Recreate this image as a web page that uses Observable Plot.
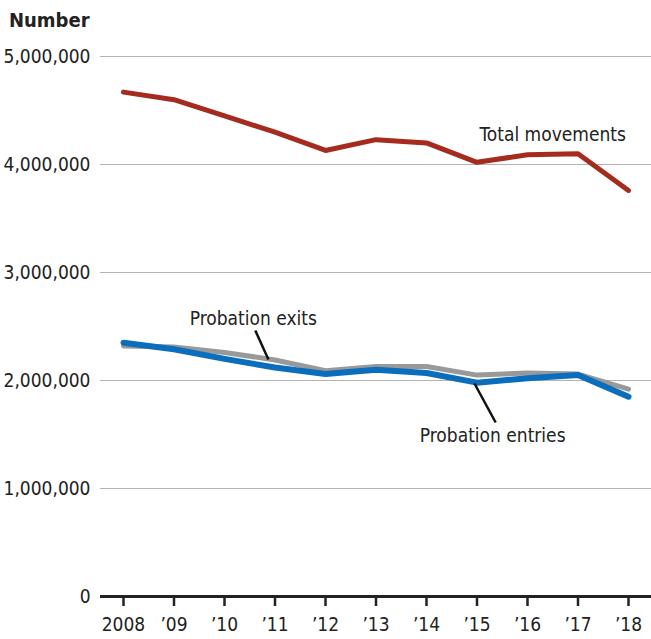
<!DOCTYPE html>
<html><head><meta charset="utf-8">
<script src="https://cdn.jsdelivr.net/npm/d3@7"></script>
<script src="https://cdn.jsdelivr.net/npm/@observablehq/plot@0.6"></script>
<style>
body{margin:0;background:#fff;font-family:"DejaVu Sans Condensed","DejaVu Sans",sans-serif;font-stretch:condensed;}
#title{height:40px;line-height:40px;padding-left:9px;font-weight:bold;font-size:20px;color:#222;font-stretch:condensed;}
svg text{font-stretch:condensed;}
</style></head>
<body>
<div id="title">Number</div>
<div id="chart"></div>
<script>
const years = [2008,2009,2010,2011,2012,2013,2014,2015,2016,2017,2018];
const yearLabels = ["2008","’09","’10","’11","’12","’13","’14","’15","’16","’17","’18"];
const totalMovements = [4670000,4600000,4450000,4300000,4130000,4230000,4200000,4020000,4090000,4100000,3760000];
const probationExits = [2320000,2310000,2260000,2190000,2090000,2130000,2130000,2050000,2070000,2060000,1920000];
const probationEntries = [2350000,2290000,2200000,2120000,2060000,2100000,2070000,1980000,2020000,2050000,1850000];
const yTicks = [0,1000000,2000000,3000000,4000000,5000000];

const annoLabels = ["Total movements","Probation exits","Probation entries"];
const annoYear = [2016.5,2010.57,2015.31];
const annoValue = [4278000,2574000,1490000];
const leaderX1 = [2010.61,2014.95];
const leaderX2 = [2010.87,2015.37];
const leaderY1 = [2463000,1972000];
const leaderY2 = [2194000,1611000];

const toRows = vals => years.map((y,i)=>({year:y, value:vals[i]}));
const anno = annoLabels.map((t,i)=>({text:t, year:annoYear[i], value:annoValue[i]}));
const leaders = leaderX1.map((x,i)=>({x1:x, x2:leaderX2[i], y1:leaderY1[i], y2:leaderY2[i]}));
const fmtYear = d => yearLabels[years.indexOf(d)];

const plot = Plot.plot({
  width:651, height:599,
  marginTop:16, marginBottom:43, marginLeft:100, marginRight:0,
  style:{fontFamily:'"DejaVu Sans Condensed","DejaVu Sans",sans-serif', fontSize:"19px", color:"#222", background:"#fff"},
  x:{domain:[2008,2018], insetLeft:23, insetRight:23},
  y:{domain:[0,5000000]},
  marks:[
    Plot.ruleY(yTicks.filter(d=>d>0), {stroke:"#b3b3b3", strokeWidth:1.2}),
    Plot.axisY({ticks:yTicks, tickSize:0, tickPadding:10, tickFormat:d3.format(","), fontSize:19, label:null}),
    Plot.axisX({ticks:years, tickSize:10, tickPadding:11, tickFormat:fmtYear, stroke:"#222", strokeWidth:2.5, fontSize:19, label:null}),
    Plot.ruleY([0], {stroke:"#222", strokeWidth:3}),
    Plot.line(toRows(probationExits), {x:"year", y:"value", stroke:"#999999", strokeWidth:5}),
    Plot.line(toRows(probationEntries), {x:"year", y:"value", stroke:"#0a6ebd", strokeWidth:6}),
    Plot.line(toRows(totalMovements), {x:"year", y:"value", stroke:"#a62b1f", strokeWidth:5}),
    Plot.link(leaders, {x1:"x1", y1:"y1", x2:"x2", y2:"y2", stroke:"#111", strokeWidth:2.5}),
    Plot.text(anno, {x:"year", y:"value", text:"text", fontSize:19, fill:"#222"})
  ]
});
document.getElementById("chart").append(plot);
</script>
</body></html>
